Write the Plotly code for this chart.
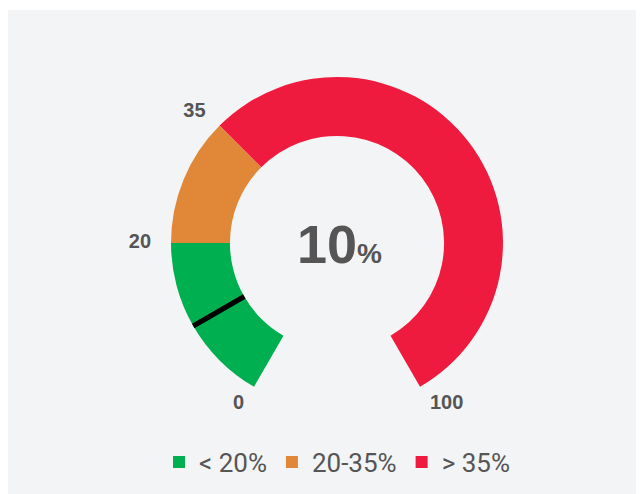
import plotly.graph_objects as go

# ---- data ----
band_names = ["< 20%", "20-35%", "> 35%"]
band_starts = [0, 20, 35]
band_ends = [20, 35, 100]
band_colors = ["#00B050", "#E08838", "#EF1B3E"]
tick_values = [0, 20, 35, 100]
tick_labels = ["0", "20", "35", "100"]
value = 10
gauge_min, gauge_max = 0, 100

# ---- scale ----
SPAN_DEG = 300.0
k = SPAN_DEG / (gauge_max - gauge_min)
inner = 0.645
label_r = 1.12
r_max = 1.2

fig = go.Figure()
for name, s, e, c in zip(band_names, band_starts, band_ends, band_colors):
    fig.add_trace(go.Barpolar(
        r=[1 - inner], base=[inner],
        theta=[(s + e) / 2 * k], width=[(e - s) * k],
        marker=dict(color=c, line=dict(width=0)),
        name=name, hoverinfo="skip",
    ))

# needle
fig.add_trace(go.Scatterpolar(
    r=[inner, 1.0], theta=[value * k, value * k], mode="lines",
    line=dict(color="black", width=5), showlegend=False, hoverinfo="skip",
))

# tick labels placed through the polar scale
mid = (gauge_min + gauge_max) / 2
fig.add_trace(go.Scatterpolar(
    r=[label_r] * len(tick_values), theta=[v * k for v in tick_values],
    mode="text", text=tick_labels,
    textposition=["middle left" if v < mid else "middle right" for v in tick_values],
    textfont=dict(family="Liberation Sans", size=20, color="#555555", weight="bold"),
    showlegend=False, hoverinfo="skip", cliponaxis=False,
))

W, H = 644, 494
OFF = 8  # page body margin
cx, cy, R = 337 - OFF, 243 - OFF, 166 * r_max
fig.update_layout(
    width=W, height=H,
    margin=dict(l=0, r=0, t=0, b=0),
    paper_bgcolor="white",
    showlegend=True,
    polar=dict(
        domain=dict(x=[(cx - R) / W, (cx + R) / W], y=[(H - cy - R) / H, (H - cy + R) / H]),
        bgcolor="rgba(0,0,0,0)",
        radialaxis=dict(visible=False, range=[0, r_max]),
        angularaxis=dict(
            rotation=240, direction="clockwise", thetaunit="degrees",
            showticklabels=False, showgrid=False, showline=False, ticks="",
        ),
        barmode="overlay",
    ),
    legend=dict(
        orientation="h", x=(337 - OFF) / W, xanchor="center", y=(H - 462 + OFF) / H, yanchor="middle",
        font=dict(family="Roboto", size=26, color="#555555"),
        bgcolor="rgba(0,0,0,0)", itemwidth=30,
    ),
    shapes=[dict(type="rect", xref="paper", yref="paper", x0=0, x1=1, y0=0, y1=1 - 2 / H,
                 fillcolor="#F3F4F6", line=dict(width=0), layer="below")],
    annotations=[dict(
        x=(cx + 2) / W, y=(H - cy - 1) / H, xref="paper", yref="paper", showarrow=False,
        text=f"<b>{value}<span style='font-size:28px'>%</span></b>",
        font=dict(family="Liberation Sans", size=54, color="#555555"),
    )],
)

fig.write_html("out.html")
